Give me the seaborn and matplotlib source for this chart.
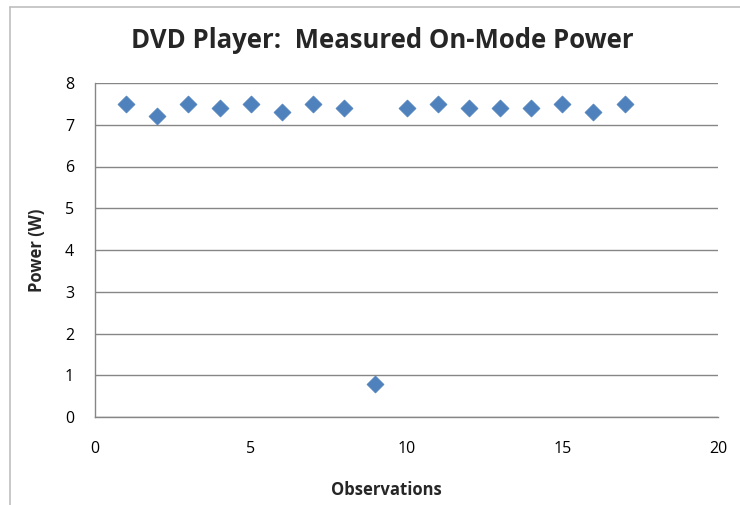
import matplotlib
matplotlib.use("Agg")
import matplotlib.pyplot as plt
import seaborn as sns
import pandas as pd
from matplotlib.lines import Line2D

# Measured on-mode power for each observation
observations = [1, 2, 3, 4, 5, 6, 7, 8, 9, 10, 11, 12, 13, 14, 15, 16, 17]
power_w = [7.5, 7.2, 7.5, 7.4, 7.5, 7.3, 7.5, 7.4, 0.8, 7.4, 7.5, 7.4, 7.4, 7.4, 7.5, 7.3, 7.5]
x_ticks = [0, 5, 10, 15, 20]
y_ticks = [0, 1, 2, 3, 4, 5, 6, 7, 8]

df = pd.DataFrame({"Observations": observations, "Power (W)": power_w})

sns.set_theme(style="white")
plt.rcParams["font.family"] = ["Open Sans", "DejaVu Sans"]

fig = plt.figure(figsize=(7.4, 5.05), dpi=100)
ax = fig.add_axes([95 / 740, 1 - 417 / 505, (718 - 95) / 740, (417 - 83) / 505])

grid_col = "#868686"
for y in y_ticks:
    ax.axhline(y, color=grid_col, lw=1.0, zorder=1)

sns.scatterplot(data=df, x="Observations", y="Power (W)", marker="D", s=75,
                color="#4F81BD", edgecolor="#4F81BD", linewidth=0.5, ax=ax, zorder=3)

ax.set_xlim(0, 20)
ax.set_ylim(0, 8)
ax.set_xticks(x_ticks)
ax.set_yticks(y_ticks)
ax.set_xticklabels([str(v) for v in x_ticks])
ax.set_yticklabels([str(v) for v in y_ticks])

for side in ["top", "right"]:
    ax.spines[side].set_visible(False)
for side in ["left", "bottom"]:
    ax.spines[side].set_color(grid_col)
    ax.spines[side].set_linewidth(1.0)

ax.tick_params(axis="both", which="major", direction="out", length=6,
               width=1.0, color=grid_col, labelcolor="black", labelsize=11.5)
ax.tick_params(axis="y", pad=9)
ax.tick_params(axis="x", pad=11)

ax.set_xlabel("")
ax.set_ylabel("")
fig.text(386 / 740, 1 - 490 / 505, "Observations", ha="center", va="center",
         fontsize=12, fontweight="bold")
fig.text(37 / 740, 1 - 250 / 505, "Power (W)", ha="center", va="center",
         rotation=90, fontsize=12, fontweight="bold")

fig.text(382 / 740, 1 - 41 / 505, "DVD Player:  Measured On-Mode Power",
         ha="center", va="center", fontsize=18.5, fontweight="bold")

# Outer chart frame
frame_col = "#bfbfbf"
fig.add_artist(Line2D([10 / 740, 1.0], [1 - 7 / 505, 1 - 7 / 505],
                      transform=fig.transFigure, color=frame_col, lw=1.2))
fig.add_artist(Line2D([10 / 740, 10 / 740], [0.0, 1 - 7 / 505],
                      transform=fig.transFigure, color=frame_col, lw=1.2))

fig.savefig("out.png", dpi=100)
